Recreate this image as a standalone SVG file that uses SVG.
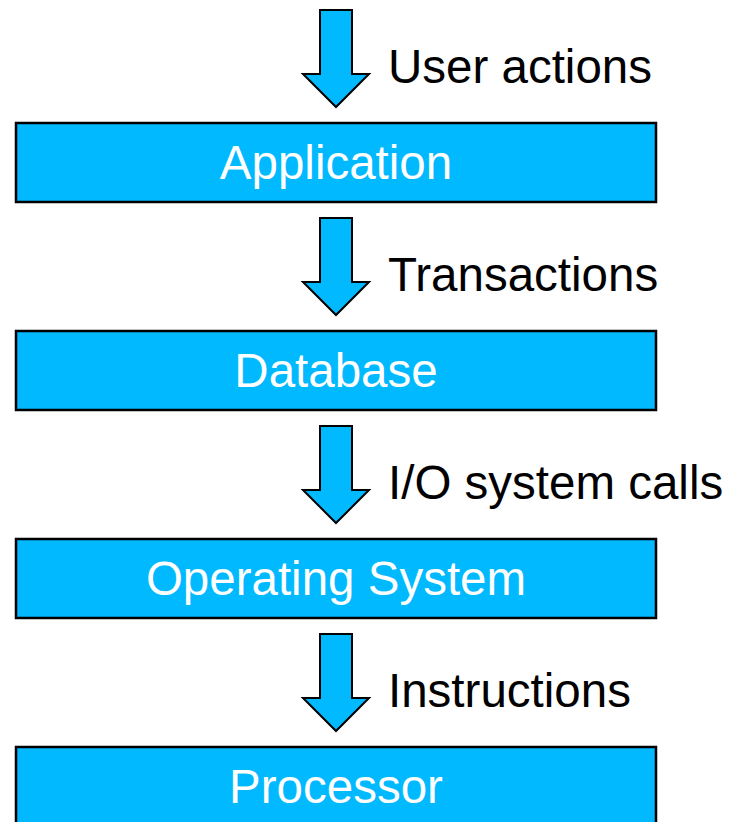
<svg xmlns="http://www.w3.org/2000/svg" width="730" height="822" viewBox="0 0 730 822">
<style>
.box{fill:#00B9FF;stroke:#000;stroke-width:2.5}
.arr{fill:#00B9FF;stroke:#000;stroke-width:2;stroke-linejoin:miter}
.bt{font-family:"Liberation Sans",Arial,sans-serif;font-size:47.5px;fill:#fff;text-anchor:middle}
.lt{font-family:"Liberation Sans",Arial,sans-serif;font-size:47.5px;fill:#000}
</style>
<rect width="730" height="822" fill="#fff"/>
<g id="connectors">
<g id="c1"><path class="arr" d="M320,10 H352 V74 H369 L336,107 L303,74 H320 Z"/><text class="lt" x="388" y="83">User actions</text></g>
<g id="c2"><path class="arr" d="M320,218 H352 V282 H369 L336,315 L303,282 H320 Z"/><text class="lt" x="388" y="291">Transactions</text></g>
<g id="c3"><path class="arr" d="M320,426 H352 V490 H369 L336,523 L303,490 H320 Z"/><text class="lt" x="388" y="499">I/O system calls</text></g>
<g id="c4"><path class="arr" d="M320,634 H352 V698 H369 L336,731 L303,698 H320 Z"/><text class="lt" x="388" y="707">Instructions</text></g>
</g>
<g id="application"><rect class="box" x="16" y="123" width="640" height="79"/><text class="bt" x="336" y="179">Application</text></g>
<g id="database"><rect class="box" x="16" y="331" width="640" height="79"/><text class="bt" x="336" y="387">Database</text></g>
<g id="os"><rect class="box" x="16" y="539" width="640" height="79"/><text class="bt" x="336" y="595">Operating System</text></g>
<g id="processor"><rect class="box" x="16" y="747" width="640" height="79"/><text class="bt" x="336" y="803">Processor</text></g>
</svg>
